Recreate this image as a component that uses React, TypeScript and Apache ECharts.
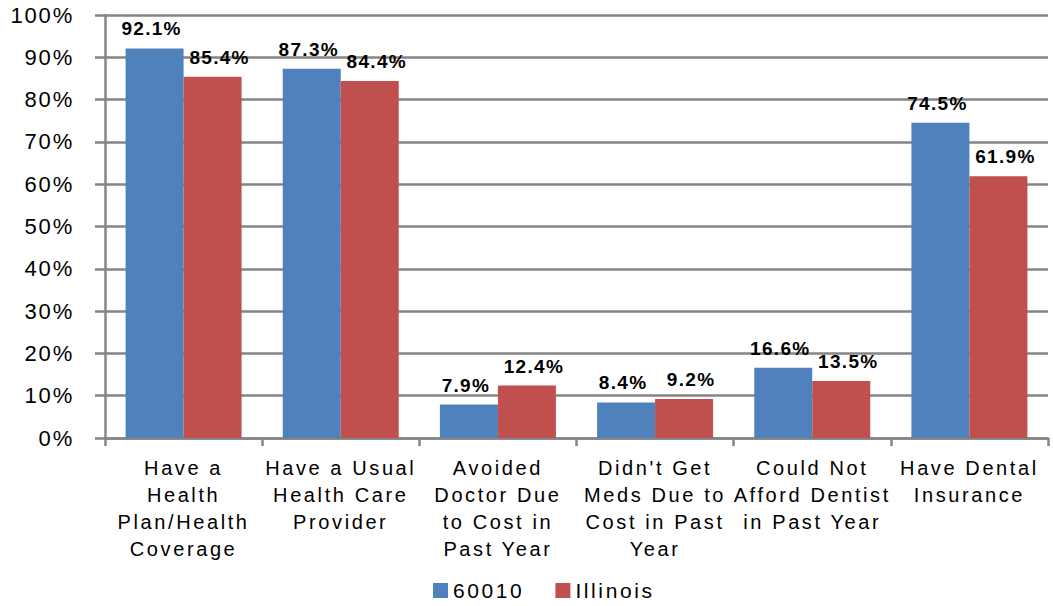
import React, { useEffect, useRef } from "react";
import * as echarts from "echarts";

const categories = [
  "Have a\nHealth\nPlan/Health\nCoverage",
  "Have a Usual\nHealth Care\nProvider",
  "Avoided\nDoctor Due\nto Cost in\nPast Year",
  "Didn't Get\nMeds Due to\nCost in Past\nYear",
  "Could Not\nAfford Dentist\nin Past Year",
  "Have Dental\nInsurance",
];
const seriesNames = ["60010", "Illinois"];
const zip60010 = [92.1, 87.3, 7.9, 8.4, 16.6, 74.5];
const illinois = [85.4, 84.4, 12.4, 9.2, 13.5, 61.9];
const yMin = 0;
const yMax = 100;
const yStep = 10;

const FONT = "'Liberation Sans', Arial, sans-serif";
const GRID_COLOR = "#858585";

export default function App() {
  const ref = useRef<HTMLDivElement>(null);

  useEffect(() => {
    if (!ref.current) return;
    const chart = echarts.init(ref.current, undefined, { renderer: "svg" });
    const labelCfg = (dx: number) => ({
      show: true,
      position: "top" as const,
      distance: 10,
      offset: [dx, 0],
      formatter: (p: any) => `${p.value.toFixed(1)}%`,
      fontFamily: FONT,
      fontSize: 19,
      fontWeight: "bold" as const,
      color: "#000",
    });
    chart.setOption({
      animation: false,
      backgroundColor: "#fff",
      textStyle: { fontFamily: FONT },
      grid: { left: 105, right: 5, top: 15, height: 423, containLabel: false },
      legend: {
        data: seriesNames,
        left: 428,
        top: 575,
        icon: "rect",
        itemWidth: 15,
        itemHeight: 15,
        itemGap: 44,
        textStyle: { fontFamily: FONT, fontSize: 21, color: "#000" },
      },
      xAxis: {
        type: "category",
        data: categories,
        axisLine: { show: true, lineStyle: { color: GRID_COLOR, width: 2.5 } },
        axisTick: { show: true, length: 8, lineStyle: { color: GRID_COLOR, width: 2.5 } },
        axisLabel: {
          interval: 0,
          margin: 16,
          fontFamily: FONT,
          fontSize: 20,
          lineHeight: 27,
          color: "#000",
        },
      },
      yAxis: {
        type: "value",
        min: yMin,
        max: yMax,
        interval: yStep,
        axisLine: { show: true, lineStyle: { color: GRID_COLOR, width: 2.5 } },
        axisTick: { show: true, length: 10, lineStyle: { color: GRID_COLOR, width: 2.5 } },
        splitLine: { show: true, lineStyle: { color: GRID_COLOR, width: 2.5 } },
        axisLabel: {
          margin: 31,
          formatter: "{value}%",
          fontFamily: FONT,
          fontSize: 22,
          color: "#000",
        },
      },
      series: [
        {
          name: seriesNames[0],
          type: "bar",
          data: zip60010,
          barWidth: 58,
          barGap: "0%",
          itemStyle: { color: "#4F81BD" },
          label: labelCfg(-3),
        },
        {
          name: seriesNames[1],
          type: "bar",
          data: illinois,
          barWidth: 58,
          barGap: "0%",
          itemStyle: { color: "#C0504D" },
          label: labelCfg(7),
        },
      ],
    });
    return () => chart.dispose();
  }, []);

  return (
    <>
      <style>{`
        #chart-box text { letter-spacing: 2.6px; }
        #chart-box text[style*="19px"] { letter-spacing: 1.3px; }
        #chart-box text[style*="22px"] { letter-spacing: 1.8px; }
      `}</style>
      <div
        id="chart-box"
        ref={ref}
        style={{ position: "fixed", left: 0, top: 0, width: 1053, height: 606 }}
      />
    </>
  );
}
